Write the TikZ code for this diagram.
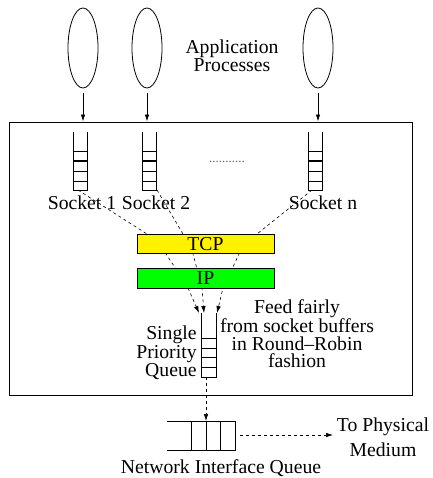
\documentclass[tikz,border=0pt]{standalone}
\usepackage{fontspec}
\setmainfont{Liberation Serif}
\usetikzlibrary{arrows.meta,shapes.geometric}
\begin{document}
\begin{tikzpicture}[x=1pt,y=-1pt, line width=0.8pt,
  lbl/.style={font=\fontsize{19.7}{17.5}\selectfont, inner sep=0pt},
  proc/.style={draw, ellipse, minimum width=30pt, minimum height=80pt, inner sep=0pt},
  layer/.style={draw, line width=0.7pt, minimum width=137pt, minimum height=19.5pt, inner sep=0pt, font=\fontsize{19.7}{19}\selectfont},
  dsh/.style={dash pattern=on 3pt off 3pt, line width=0.6pt},
  arr/.style={-{Latex[length=7pt,width=4.5pt]}},
  sockq/.pic={
    \draw (-7,0) -- (-7,58) -- (7,58) -- (7,0);
    \foreach \yy in {19,39,49} \draw (-7,\yy) -- (7,\yy);
    \draw[line width=1.3pt] (-7,29) -- (7,29);
  }
]
\useasboundingbox (0,0) rectangle (432,478);

% application processes
\node[proc] (p1) at (83,48) {};
\node[proc] (p2) at (147,48) {};
\node[proc] (p3) at (318,48) {};
\node[lbl, align=center, font=\fontsize{19.7}{18}\selectfont] (app) at (232,56) {Application\\Processes};

% system box
\node[draw, line width=0.9pt, minimum width=403pt, minimum height=273pt, inner sep=0pt] (sys) at (210.5,258.5) {};

\draw[arr] ([yshift=-5pt]p1.south) -- (p1.south |- sys.north);
\draw[arr] ([yshift=-5pt]p2.south) -- (p2.south |- sys.north);
\draw[arr] ([yshift=-5pt]p3.south) -- (p3.south |- sys.north);

% socket buffers
\pic at (80,132) {sockq};
\pic at (149,132) {sockq};
\pic at (315.5,132) {sockq};
\node[lbl, font=\fontsize{13}{13}\selectfont, text=black!60] (dots) at (227,162) {...........};

\coordinate (s1) at (78,190);
\coordinate (s2) at (157,190);
\coordinate (s3) at (312,190);

% dashed paths (drawn before the layer boxes)
\coordinate (a1) at (147,234); \coordinate (b1) at (166,254); \coordinate (c1) at (176,269); \coordinate (d1) at (188,288); \coordinate (e1) at (199,313);
\coordinate (a2) at (183,234); \coordinate (b2) at (193,254); \coordinate (c2) at (197,269); \coordinate (d2) at (202,288); \coordinate (e2) at (204,313);
\coordinate (a3) at (257,234); \coordinate (b3) at (239,254); \coordinate (c3) at (232,269); \coordinate (d3) at (223,288); \coordinate (e3) at (217,313);
\draw[dsh, arr] (s1) -- (a1) -- (b1) -- (c1) -- (d1) -- (e1);
\draw[dsh, arr] (s2) -- (a2) -- (b2) -- (c2) -- (d2) -- (e2);
\draw[dsh, arr] (s3) -- (a3) -- (b3) -- (c3) -- (d3) -- (e3);

\node[lbl] (l1) at (82,203) {Socket 1};
\node[lbl] (l2) at (156,203) {Socket 2};
\node[lbl] (l3) at (323,203) {Socket n};

\node[layer, fill=yellow] (tcp) at (205.5,244) {TCP};
\node[layer, fill=green] (ip) at (205.5,278.5) {IP};

% single priority queue
\draw (201,313) -- (201,377) -- (216,377) -- (216,313);
\foreach \yy in {338,348,357,367} \draw (201,\yy) -- (216,\yy);
\coordinate (sq) at (206,377);
\node[lbl, align=right, anchor=east, font=\fontsize{19.7}{16.5}\selectfont] (spq) at (197,353) {Single\\Priority\\Queue};
\node[lbl, align=center] (feed) at (297,334) {Feed fairly\\from socket buffers\\in Round\textendash Robin\\fashion};

% network interface queue
\draw (167,421) -- (235,421) -- (235,450) -- (167,450);
\foreach \xx in {191,206,220} \draw (\xx,421) -- (\xx,450);
\coordinate (nq) at (206,421);
\coordinate (nqr) at (240,435);
\node[lbl] (niq) at (221,468) {Network Interface Queue};
\node[lbl, align=center, font=\fontsize{19.7}{25}\selectfont] (med) at (383,437) {To Physical\\Medium};
\coordinate (me) at (333,435);

\draw[dsh, arr] (sq) -- (nq);
\draw[dsh, arr] (nqr) -- (me);
\end{tikzpicture}
\end{document}
